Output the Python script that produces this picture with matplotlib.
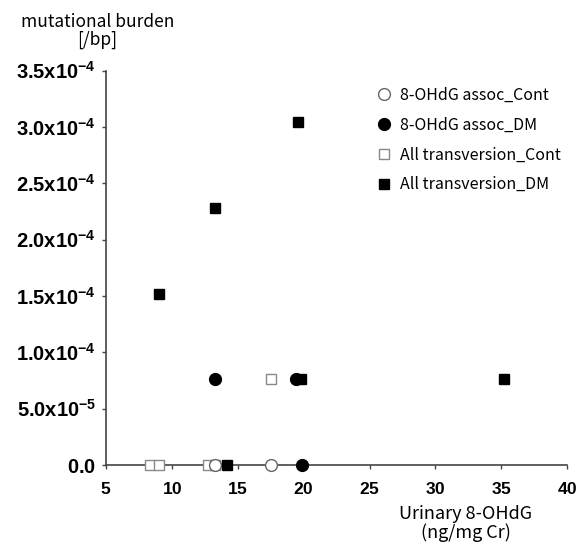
import matplotlib
matplotlib.use("Agg")
import matplotlib.pyplot as plt
from matplotlib.ticker import FixedLocator

plt.rcParams['font.family'] = ['Noto Sans CJK JP', 'DejaVu Sans']
plt.rcParams['mathtext.fontset'] = 'custom'
plt.rcParams['mathtext.bf'] = 'Liberation Sans:bold'
plt.rcParams['mathtext.rm'] = 'Liberation Sans'

# Data (urinary 8-OHdG, mutational burden)
ohdg_cont_x = [13.3, 17.5]
ohdg_cont_y = [0.0, 0.0]
ohdg_dm_x = [13.3, 19.4, 19.9]
ohdg_dm_y = [7.6e-5, 7.6e-5, 0.0]
tv_cont_x = [8.3, 9.0, 12.7, 13.3, 17.5]
tv_cont_y = [0.0, 0.0, 0.0, 0.0, 7.6e-5]
tv_dm_x = [9.0, 13.3, 19.6, 19.8, 35.2, 14.2]
tv_dm_y = [1.52e-4, 2.28e-4, 3.04e-4, 7.6e-5, 7.6e-5, 0.0]

series_names = ["8-OHdG assoc_Cont", "8-OHdG assoc_DM",
                "All transversion_Cont", "All transversion_DM"]

yticks = [0, 0.5e-4, 1.0e-4, 1.5e-4, 2.0e-4, 2.5e-4, 3.0e-4, 3.5e-4]
ytick_labels = ["0.0", "5.0x10^-5", "1.0x10^-4", "1.5x10^-4", "2.0x10^-4",
                "2.5x10^-4", "3.0x10^-4", "3.5x10^-4"]
xticks = [5, 10, 15, 20, 25, 30, 35, 40]


def fmt(lbl):
    if "^" in lbl:
        base, exp = lbl.split("^")
        return r"$\mathbf{%s}^{\mathbf{%s}}$" % (base, exp)
    return r"$\mathbf{%s}$" % lbl


fig = plt.figure(figsize=(5.86, 5.47), dpi=100)
ax = fig.add_axes([0.181, 0.150, 0.787, 0.721])

ax.plot(tv_cont_x, tv_cont_y, ls='none', marker='s', ms=7.5, mfc='white',
        mec='#888888', mew=1.0, clip_on=False, zorder=3, label=series_names[2])
ax.plot(ohdg_cont_x, ohdg_cont_y, ls='none', marker='o', ms=8.5, mfc='white',
        mec='#666666', mew=1.0, clip_on=False, zorder=3, label=series_names[0])
ax.plot(tv_dm_x, tv_dm_y, ls='none', marker='s', ms=7.5, mfc='black',
        mec='black', clip_on=False, zorder=4, label=series_names[3])
ax.plot(ohdg_dm_x, ohdg_dm_y, ls='none', marker='o', ms=8.5, mfc='black',
        mec='black', clip_on=False, zorder=4, label=series_names[1])

ax.set_xlim(5, 40)
ax.set_ylim(0, 3.5e-4)
ax.spines['top'].set_visible(False)
ax.spines['right'].set_visible(False)
for s in ['left', 'bottom']:
    ax.spines[s].set_color('#444444')
    ax.spines[s].set_linewidth(1.2)

ax.xaxis.set_major_locator(FixedLocator(xticks))
ax.set_xticklabels([fmt(str(t)) for t in xticks], fontsize=12.5)
ax.yaxis.set_major_locator(FixedLocator(yticks))
ax.set_yticklabels([fmt(l) for l in ytick_labels], fontsize=14.5)
ax.tick_params(direction='out', length=3, width=1, color='#444444')
ax.tick_params(axis='x', pad=8)
ax.tick_params(axis='y', pad=4)

handles, labels = ax.get_legend_handles_labels()
order = [1, 3, 0, 2]
leg = ax.legend([handles[i] for i in order], [labels[i] for i in order],
                loc='upper left', bbox_to_anchor=(0.575, 0.975), frameon=False,
                fontsize=11.5, handlelength=0.8, handletextpad=0.6,
                labelspacing=0.8, borderaxespad=0)

fig.text(0.166, 0.943, "mutational burden\n[/bp]", ha='center', va='center',
         fontsize=12.5, linespacing=1.0)
fig.text(0.795, 0.043, "Urinary 8-OHdG\n(ng/mg Cr)", ha='center', va='center',
         fontsize=13, linespacing=1.0)

fig.savefig("out.png", dpi=100)
